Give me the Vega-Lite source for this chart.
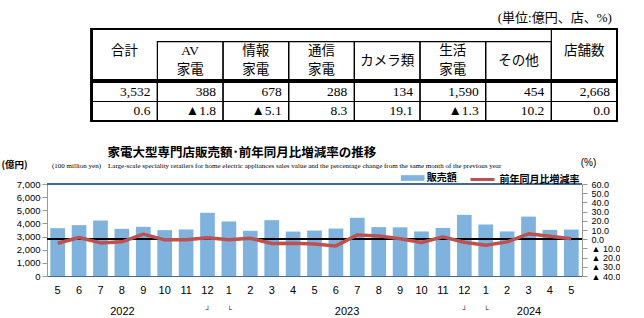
{
  "$schema": "https://vega.github.io/schema/vega-lite/v6.json",
  "background": "white",
  "padding": {"left": 0, "top": 12, "right": 0, "bottom": 0},
  "config": {"view": {"stroke": null}, "font": "Liberation Sans"},
  "resolve": {"legend": {"fill": "independent", "stroke": "independent"}},
  "datasets": {
    "header": [
      {"col": "合計", "text": "合計", "line": "上段", "span": "merged", "centered": false},
      {"col": "AV家電", "text": "AV", "line": "上段", "span": "sub", "centered": false},
      {"col": "AV家電", "text": "家電", "line": "下段", "span": "sub", "centered": false},
      {"col": "情報家電", "text": "情報", "line": "上段", "span": "sub", "centered": false},
      {"col": "情報家電", "text": "家電", "line": "下段", "span": "sub", "centered": false},
      {"col": "通信家電", "text": "通信", "line": "上段", "span": "sub", "centered": false},
      {"col": "通信家電", "text": "家電", "line": "下段", "span": "sub", "centered": false},
      {"col": "カメラ類", "text": "カメラ類", "line": "上段", "span": "sub", "centered": true},
      {"col": "生活家電", "text": "生活", "line": "上段", "span": "sub", "centered": false},
      {"col": "生活家電", "text": "家電", "line": "下段", "span": "sub", "centered": false},
      {"col": "その他", "text": "その他", "line": "上段", "span": "sub", "centered": true},
      {"col": "店舗数", "text": "店舗数", "line": "上段", "span": "full", "centered": false}
    ],
    "body": [
      {"col": "合計", "row": "販売額", "value": 3532},
      {"col": "AV家電", "row": "販売額", "value": 388},
      {"col": "情報家電", "row": "販売額", "value": 678},
      {"col": "通信家電", "row": "販売額", "value": 288},
      {"col": "カメラ類", "row": "販売額", "value": 134},
      {"col": "生活家電", "row": "販売額", "value": 1590},
      {"col": "その他", "row": "販売額", "value": 454},
      {"col": "店舗数", "row": "販売額", "value": 2668},
      {"col": "合計", "row": "前年同月比", "value": 0.6},
      {"col": "AV家電", "row": "前年同月比", "value": -1.8},
      {"col": "情報家電", "row": "前年同月比", "value": -5.1},
      {"col": "通信家電", "row": "前年同月比", "value": 8.3},
      {"col": "カメラ類", "row": "前年同月比", "value": 19.1},
      {"col": "生活家電", "row": "前年同月比", "value": -1.3},
      {"col": "その他", "row": "前年同月比", "value": 10.2},
      {"col": "店舗数", "row": "前年同月比", "value": 0.0}
    ],
    "monthly": [
      {"ym": "2022-05", "sales": 3640, "pct": -4.4},
      {"ym": "2022-06", "sales": 3870, "pct": 1.8},
      {"ym": "2022-07", "sales": 4220, "pct": -4.0},
      {"ym": "2022-08", "sales": 3590, "pct": -2.9},
      {"ym": "2022-09", "sales": 3740, "pct": 5.5},
      {"ym": "2022-10", "sales": 3490, "pct": -0.7},
      {"ym": "2022-11", "sales": 3540, "pct": -0.7},
      {"ym": "2022-12", "sales": 4810, "pct": 1.5},
      {"ym": "2023-01", "sales": 4150, "pct": -0.7},
      {"ym": "2023-02", "sales": 3440, "pct": 1.1},
      {"ym": "2023-03", "sales": 4250, "pct": -4.7},
      {"ym": "2023-04", "sales": 3380, "pct": -4.4},
      {"ym": "2023-05", "sales": 3460, "pct": -5.1},
      {"ym": "2023-06", "sales": 3610, "pct": -7.3},
      {"ym": "2023-07", "sales": 4430, "pct": 4.7},
      {"ym": "2023-08", "sales": 3720, "pct": 3.6},
      {"ym": "2023-09", "sales": 3700, "pct": 0.4},
      {"ym": "2023-10", "sales": 3390, "pct": -3.6},
      {"ym": "2023-11", "sales": 3660, "pct": 2.5},
      {"ym": "2023-12", "sales": 4650, "pct": -3.3},
      {"ym": "2024-01", "sales": 3920, "pct": -6.5},
      {"ym": "2024-02", "sales": 3390, "pct": -2.9},
      {"ym": "2024-03", "sales": 4520, "pct": 5.8},
      {"ym": "2024-04", "sales": 3510, "pct": 3.3},
      {"ym": "2024-05", "sales": 3532, "pct": 0.6}
    ]
  },
  "spacing": 24,
  "vconcat": [
    {
      "spacing": 0,
      "vconcat": [
        {
          "width": 570,
          "height": 51,
          "title": {"text": "(単位:億円、店、%)", "anchor": "end", "orient": "top", "font": "Liberation Serif, Noto Sans CJK JP", "fontSize": 13, "fontWeight": "normal", "color": "#000", "offset": 3, "dx": -6},
          "data": {"name": "header"},
          "layer": [
            {
              "transform": [{"filter": "datum.span == 'sub' && datum.line == '上段'"}],
              "mark": {"type": "rect", "filled": false, "stroke": "black", "strokeWidth": 1.2},
              "encoding": {
                "x": {"field": "col", "type": "nominal", "scale": {"domain": ["合計", "AV家電", "情報家電", "通信家電", "カメラ類", "生活家電", "その他", "店舗数"], "paddingInner": 0, "paddingOuter": 0.3405, "align": 1}, "axis": null},
                "y": {"datum": "上段", "type": "nominal", "bandPosition": 0, "scale": {"domain": ["上段", "下段"], "paddingInner": 0, "paddingOuter": 0.3316, "align": 1}, "axis": null},
                "y2": {"datum": "下段", "bandPosition": 1}
              }
            },
            {
              "transform": [{"filter": "datum.span == 'full'"}],
              "mark": {"type": "rect", "filled": false, "stroke": "black", "strokeWidth": 1.2},
              "encoding": {
                "x": {"field": "col", "type": "nominal", "axis": null}
              }
            },
            {
              "mark": {"type": "rect", "filled": false, "stroke": "black", "strokeWidth": 1.8},
              "encoding": {
                "x": {"datum": "合計", "type": "nominal", "bandPosition": 0, "axis": null},
                "x2": {"datum": "店舗数", "bandPosition": 1}
              }
            },
            {
              "transform": [{"filter": "!datum.centered"}],
              "mark": {"type": "text", "font": "Liberation Serif, Noto Sans CJK JP", "fontSize": 13.5, "baseline": "middle", "align": "center", "color": "#000"},
              "encoding": {
                "x": {"field": "col", "type": "nominal", "axis": null},
                "y": {"field": "line", "type": "nominal", "axis": null},
                "text": {"field": "text"}
              }
            },
            {
              "transform": [{"filter": "datum.centered"}],
              "mark": {"type": "text", "font": "Liberation Serif, Noto Sans CJK JP", "fontSize": 13.5, "baseline": "middle", "align": "center", "color": "#000"},
              "encoding": {
                "x": {"field": "col", "type": "nominal", "axis": null},
                "y": {"field": "line", "type": "nominal", "bandPosition": 1, "axis": null},
                "text": {"field": "text"}
              }
            }
          ]
        },
        {
          "width": 570,
          "height": 39,
          "data": {"name": "body"},
          "transform": [{"calculate": "datum.row == '販売額' ? format(datum.value, ',') : (datum.value < 0 ? '▲' : '') + format(abs(datum.value), '.1f')", "as": "shown"}],
          "layer": [
            {
              "mark": {"type": "rect", "filled": false, "stroke": "black", "strokeWidth": 1.2},
              "encoding": {
                "x": {"field": "col", "type": "nominal", "scale": {"domain": ["合計", "AV家電", "情報家電", "通信家電", "カメラ類", "生活家電", "その他", "店舗数"], "paddingInner": 0, "paddingOuter": 0.3405, "align": 1}, "axis": null},
                "y": {"field": "row", "type": "nominal", "scale": {"domain": ["販売額", "前年同月比"], "paddingInner": 0, "paddingOuter": 0}, "axis": null}
              }
            },
            {
              "mark": {"type": "rect", "filled": false, "stroke": "black", "strokeWidth": 1.8},
              "encoding": {
                "x": {"datum": "合計", "type": "nominal", "bandPosition": 0, "axis": null},
                "x2": {"datum": "店舗数", "bandPosition": 1}
              }
            },
            {
              "mark": {"type": "text", "align": "right", "baseline": "middle", "dx": -7, "font": "Liberation Serif, DejaVu Sans", "fontSize": 13.5, "color": "#000"},
              "encoding": {
                "x": {"field": "col", "type": "nominal", "bandPosition": 1, "axis": null},
                "y": {"field": "row", "type": "nominal", "axis": null},
                "text": {"field": "shown"}
              }
            }
          ]
        }
      ]
    },
    {
      "width": 535,
      "height": 92,
      "data": {"name": "monthly"},
      "title": {
        "text": "\u200b\u00a0\u00a0\u00a0\u00a0\u00a0\u00a0\u00a0\u00a0\u00a0\u00a0\u00a0\u00a0\u00a0\u00a0\u00a0\u00a0家電大型専門店販売額･前年同月比増減率の推移",
        "subtitle": "(100 million yen)\u00a0\u00a0\u00a0\u00a0Large-scale speciality retailers for home electric appliances sales value and the percentage change from the same month of the previous year",
        "anchor": "start",
        "frame": "group",
        "dx": 5,
        "offset": -12,
        "font": "Liberation Sans, Noto Sans CJK JP",
        "fontSize": 12.5,
        "fontWeight": "bold",
        "color": "#000",
        "subtitleFont": "Liberation Serif",
        "subtitleFontSize": 7,
        "subtitleColor": "#000",
        "subtitlePadding": 3
      },
      "layer": [
        {
          "layer": [
            {
              "mark": {"type": "bar"},
              "encoding": {
                "x": {"field": "ym", "type": "ordinal", "scale": {"paddingInner": 0.313, "paddingOuter": 0.155},
                  "axis": {"title": null, "labelExpr": "toNumber(slice(datum.value, 5))", "ticks": false, "domainColor": "#41689c", "domainWidth": 1.2, "labelPadding": 8, "labelFont": "Liberation Sans", "labelFontSize": 11, "labelColor": "#000", "labelAngle": 0}},
                "y": {"field": "sales", "type": "quantitative", "scale": {"domain": [0, 7000]},
                  "axis": {"title": "(億円)", "titleAngle": 0, "titleX": -33, "titleY": -19.3, "titleAlign": "center", "titleBaseline": "middle", "titleFont": "Noto Sans CJK JP", "titleFontSize": 9.5, "titleFontWeight": "bold", "titleColor": "#000",
                    "values": [0, 1000, 2000, 3000, 4000, 5000, 6000, 7000], "labelExpr": "format(datum.value, ',')", "grid": false, "domainColor": "#999", "tickColor": "#999", "tickSize": 5, "labelPadding": 2, "labelFont": "Liberation Sans", "labelFontSize": 9.5, "labelColor": "#000", "labelOverlap": false}},
                "fill": {"datum": "販売額", "type": "nominal", "scale": {"range": ["#7fb3de"]},
                  "legend": {"orient": "none", "legendX": 353.7, "legendY": -18, "title": null, "padding": 0, "symbolType": "M-1,-0.24H1V0.24H-1Z", "symbolSize": 557, "symbolStrokeWidth": 0, "labelFont": "Noto Sans CJK JP", "labelFontSize": 10, "labelFontWeight": "bold", "labelColor": "#000", "labelOffset": 2}}
              }
            },
            {
              "mark": {"type": "rule", "color": "#41689c", "strokeWidth": 1.2},
              "encoding": {"y": {"datum": 7000, "type": "quantitative",
                  "axis": {"title": "(億円)", "titleAngle": 0, "titleX": -33, "titleY": -19.3, "titleAlign": "center", "titleBaseline": "middle", "titleFont": "Noto Sans CJK JP", "titleFontSize": 9.5, "titleFontWeight": "bold", "titleColor": "#000",
                    "values": [0, 1000, 2000, 3000, 4000, 5000, 6000, 7000], "labelExpr": "format(datum.value, ',')", "grid": false, "domainColor": "#999", "tickColor": "#999", "tickSize": 5, "labelPadding": 2, "labelFont": "Liberation Sans", "labelFontSize": 9.5, "labelColor": "#000", "labelOverlap": false}}}
            }
          ]
        },
        {
          "layer": [
            {
              "mark": {"type": "rule", "color": "#000", "strokeWidth": 1},
              "encoding": {"y": {"datum": 0, "type": "quantitative", "scale": {"domain": [-40, 60]},
                  "axis": {"orient": "right", "title": "(%)", "titleAngle": 0, "titleX": 6, "titleY": -21.6, "titleAlign": "center", "titleBaseline": "middle", "titleFont": "Liberation Sans", "titleFontSize": 10, "titleFontWeight": "normal", "titleColor": "#000",
                    "values": [-40, -30, -20, -10, 0, 10, 20, 30, 40, 50, 60], "labelExpr": "datum.value < 0 ? '▲ ' + format(-datum.value, '.1f') : format(datum.value, '.1f')", "grid": false, "domainColor": "#999", "tickColor": "#999", "tickSize": 5, "labelPadding": 4, "labelFont": "Liberation Sans, DejaVu Sans", "labelFontSize": 9, "labelColor": "#000", "labelOverlap": false}}}
            },
            {
              "mark": {"type": "line", "strokeWidth": 3.5, "strokeJoin": "round"},
              "encoding": {
                "x": {"field": "ym", "type": "ordinal",
                  "axis": {"orient": "bottom", "title": null, "domain": false, "ticks": false, "labelPadding": 29, "labelAngle": 0, "labelOverlap": false,
                    "labelExpr": "datum.value == '2022-08' ? '2022' : datum.value == '2023-06' ? '2023' : datum.value == '2024-03' ? '2024' : (datum.value == '2022-12' || datum.value == '2023-12') ? '┘' : (datum.value == '2023-01' || datum.value == '2024-01') ? '└' : ''",
                    "labelFontSize": {"condition": {"test": "indexof(['2022-12','2023-12','2023-01','2024-01'], datum.value) >= 0", "value": 7}, "value": 11},
                    "labelOffset": {"condition": {"test": "datum.value == '2023-06'", "value": 10.7}, "value": 0},
                    "labelFont": "Liberation Sans, DejaVu Sans", "labelColor": "#000"}},
                "y": {"field": "pct", "type": "quantitative", "scale": {"domain": [-40, 60]},
                  "axis": {"orient": "right", "title": "(%)", "titleAngle": 0, "titleX": 6, "titleY": -21.6, "titleAlign": "center", "titleBaseline": "middle", "titleFont": "Liberation Sans", "titleFontSize": 10, "titleFontWeight": "normal", "titleColor": "#000",
                    "values": [-40, -30, -20, -10, 0, 10, 20, 30, 40, 50, 60], "labelExpr": "datum.value < 0 ? '▲ ' + format(-datum.value, '.1f') : format(datum.value, '.1f')", "grid": false, "domainColor": "#999", "tickColor": "#999", "tickSize": 5, "labelPadding": 4, "labelFont": "Liberation Sans, DejaVu Sans", "labelFontSize": 9, "labelColor": "#000", "labelOverlap": false}},
                "stroke": {"datum": "前年同月比増減率", "type": "nominal", "scale": {"range": ["#c0504d"]},
                  "legend": {"orient": "none", "legendX": 422, "legendY": -18, "title": null, "padding": 0, "symbolType": "stroke", "symbolSize": 576, "symbolStrokeWidth": 3, "labelFont": "Noto Sans CJK JP", "labelFontSize": 10, "labelFontWeight": "bold", "labelColor": "#000", "labelOffset": 3.5}}
              }
            }
          ]
        }
      ],
      "resolve": {"scale": {"x": "independent", "y": "independent"}}
    }
  ]
}
